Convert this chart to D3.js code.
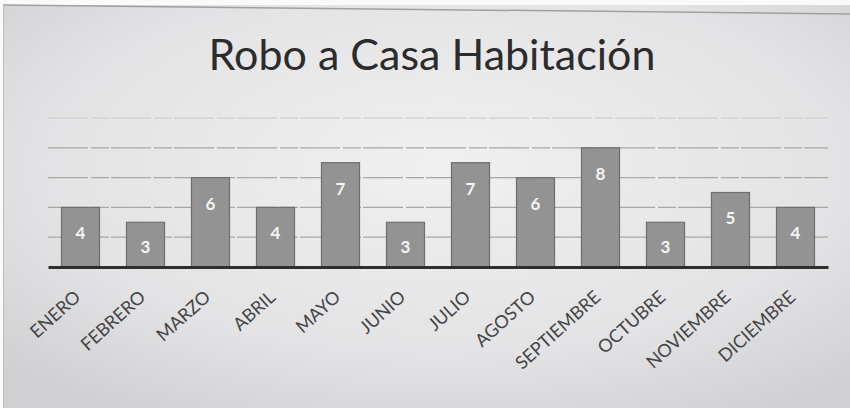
<!DOCTYPE html>
<html>
<head>
<meta charset="utf-8">
<script src="https://cdn.jsdelivr.net/npm/d3@7"></script>
<style>
  body { margin: 0; background: #fff; }
  svg { display: block; }
</style>
</head>
<body>
<svg id="chart"></svg>
<script>
const title = "Robo a Casa Habitación";
const months = ["ENERO", "FEBRERO", "MARZO", "ABRIL", "MAYO", "JUNIO",
  "JULIO", "AGOSTO", "SEPTIEMBRE", "OCTUBRE", "NOVIEMBRE", "DICIEMBRE"];
const robos = [4, 3, 6, 4, 7, 3, 7, 6, 8, 3, 5, 4];
const gridTicks = [2, 4, 6, 8, 10];

const width = 850, height = 408;
const margin = { top: 118, right: 22, bottom: 141, left: 48 };

const svg = d3.select("#chart").attr("width", width).attr("height", height);

// photocopied paper background
const defs = svg.append("defs");
const grad = defs.append("radialGradient").attr("id", "paper")
  .attr("cx", "52%").attr("cy", "40%").attr("r", "72%");
grad.append("stop").attr("offset", "0%").attr("stop-color", "#f0f0f0");
grad.append("stop").attr("offset", "65%").attr("stop-color", "#e3e3e5");
grad.append("stop").attr("offset", "100%").attr("stop-color", "#d0d0d3");

svg.append("rect").attr("width", width).attr("height", height).attr("fill", "#fafafa");
svg.append("rect")
  .attr("x", 3).attr("y", 5).attr("width", width - 3).attr("height", height - 5)
  .attr("fill", "url(#paper)");
svg.append("line")
  .attr("x1", 3).attr("x2", width).attr("y1", 5).attr("y2", 14)
  .attr("stroke", "#a0a0a0").attr("stroke-width", 1.5);
svg.append("line")
  .attr("x1", 3.5).attr("x2", 3.5).attr("y1", 5).attr("y2", height)
  .attr("stroke", "#bcbcbc").attr("stroke-width", 1);

svg.append("text")
  .attr("x", 432).attr("y", 70)
  .attr("text-anchor", "middle")
  .style("font-family", "Lato, 'Open Sans', sans-serif")
  .style("font-size", "43px")
  .style("fill", "#2c2c2c")
  .text(title);

const x = d3.scaleBand()
  .domain(months)
  .range([margin.left, width - margin.right])
  .paddingInner(0.415)
  .paddingOuter(0.2075);

const y = d3.scaleLinear()
  .domain([0, 10])
  .range([height - margin.bottom, margin.top]);

const g = svg.append("g");

g.selectAll(".grid")
  .data(gridTicks)
  .enter().append("line")
  .attr("class", "grid")
  .attr("x1", margin.left).attr("x2", width - margin.right)
  .attr("y1", (d) => y(d)).attr("y2", (d) => y(d))
  .attr("stroke", (d) => d === 10 ? "#d2d2d2" : "#a8a8a8")
  .attr("stroke-width", 1.3)
  .attr("stroke-dasharray", "40 3 18 2");

g.selectAll(".bar")
  .data(robos)
  .enter().append("rect")
  .attr("class", "bar")
  .attr("x", (d, i) => x(months[i]))
  .attr("y", (d) => y(d))
  .attr("width", x.bandwidth())
  .attr("height", (d) => y(0) - y(d))
  .attr("fill", "#939393")
  .attr("stroke", "#6e6e6e")
  .attr("stroke-width", 1.2);

g.selectAll(".val")
  .data(robos)
  .enter().append("text")
  .attr("class", "val")
  .attr("x", (d, i) => x(months[i]) + x.bandwidth() / 2)
  .attr("y", (d) => Math.min(y(d) + 26, (y(d) + y(0)) / 2 + 2))
  .attr("dy", "0.35em")
  .attr("text-anchor", "middle")
  .style("font-family", "Lato, sans-serif")
  .style("font-weight", "bold")
  .style("font-size", "17px")
  .style("fill", "#f4f4f4")
  .text((d) => d);

const xAxis = d3.axisBottom(x).tickSize(0).tickPadding(0);
const ax = svg.append("g")
  .attr("transform", `translate(0, ${y(0)})`)
  .call(xAxis);
ax.select(".domain").attr("stroke", "#2e2e2e").attr("stroke-width", 3);
ax.selectAll(".tick text")
  .attr("text-anchor", "end")
  .attr("transform", "translate(-3, 27) rotate(-42)")
  .attr("dy", "0.35em")
  .style("font-family", "Lato, sans-serif")
  .style("font-size", "18px")
  .style("fill", "#454545");
</script>
</body>
</html>
